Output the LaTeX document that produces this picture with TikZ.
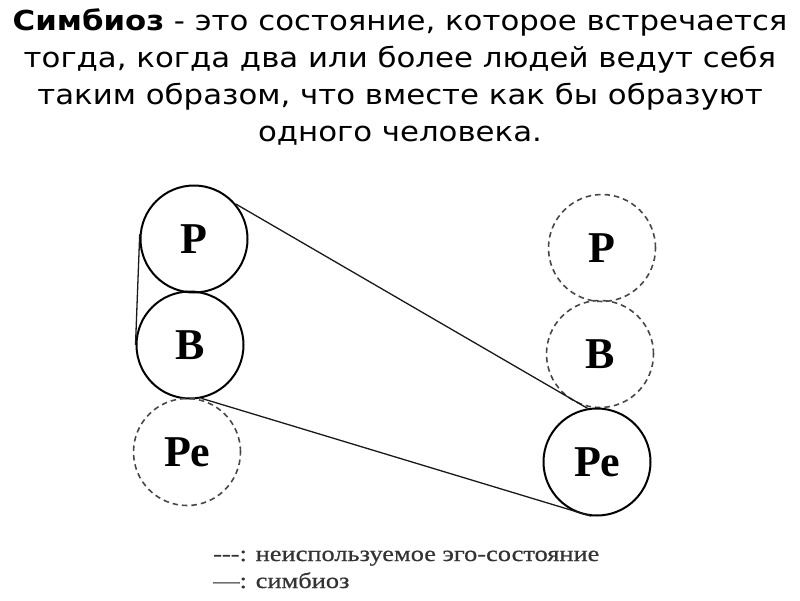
\documentclass[tikz,border=0pt]{standalone}
\usepackage{fontspec}
\newfontfamily\titlefont[FakeStretch=1.12]{DejaVu Sans}
\newfontfamily\lblfont{Liberation Serif}
\newfontfamily\legfont[FakeStretch=1.2,FakeBold=0.6]{Liberation Serif}
\begin{document}
\begin{tikzpicture}[x=1pt,y=-1pt,
  ego/.style={circle,minimum size=107pt,inner sep=0pt,line width=2pt,draw=black,
    font=\lblfont\bfseries\fontsize{44}{44}\selectfont},
  unused/.style={ego,draw=black!72,line width=1.6pt,dash pattern=on 5.5pt off 4pt},
  conn/.style={line width=1.3pt,draw=black!90},
  ttl/.style={anchor=base,inner sep=0pt,font=\titlefont\fontsize{27.5}{37}\selectfont},
  leg/.style={anchor=base west,inner sep=0pt,text=black!80,font=\legfont\fontsize{22}{26}\selectfont}]
\useasboundingbox (0,0) rectangle (800,600);
\node[ttl] (t1) at (400,30) {\textbf{Симбиоз} - это состояние, которое встречается};
\node[ttl] (t2) at (400,67) {тогда, когда два или более людей ведут себя};
\node[ttl] (t3) at (400,104) {таким образом, что вместе как бы образуют};
\node[ttl] (t4) at (400,141) {одного человека.};

\node[ego] (lP) at (194,239) {Р};
\node[ego] (lB) at (190,345) {В};
\node[unused] (lPe) at (187,452) {Ре};
\node[unused] (rP) at (602,248) {Р};
\node[unused] (rB) at (600,354) {В};
\node[ego] (rPe) at (597,462) {Ре};

\draw[conn] (lP.175) -- (lB.180);
\draw[conn] (lP.40) -- (rPe.100);
\draw[conn] (lB.-78) -- (rPe.-96);

\node[leg] (l1) at (213,561) {-{}-{}-: неиспользуемое эго-состояние};
\node[leg] (l2) at (213,588) {—: симбиоз};
\end{tikzpicture}
\end{document}
